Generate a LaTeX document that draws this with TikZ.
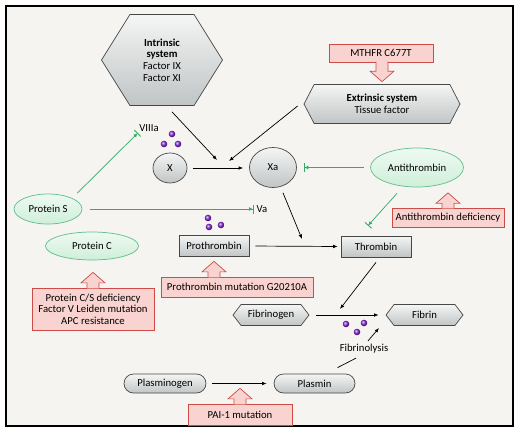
\documentclass[tikz,border=0pt]{standalone}
\usepackage{fontspec}
\setmainfont{Carlito}
\usetikzlibrary{arrows.meta,calc,positioning,shapes.geometric,shapes.symbols,shapes.misc}

\definecolor{paper}{HTML}{F5F4F0}
\definecolor{steel}{HTML}{B9BEBE}
\definecolor{leaf}{HTML}{2FAE68}
\definecolor{leafedge}{HTML}{5FBF88}
\definecolor{leaffill}{HTML}{CFEFD9}
\definecolor{rose}{HTML}{F9D3CF}
\definecolor{roseedge}{HTML}{CE4C47}
\definecolor{bead}{HTML}{8E2BE0}

\begin{document}
\begin{tikzpicture}[x=1pt, y=-1pt,
    font=\fontsize{10.7}{11.6}\selectfont,
    grey/.style={draw=black!72, line width=0.7pt, top color=steel!15, bottom color=steel!90},
    box/.style={grey, rectangle, minimum width=70pt, minimum height=21pt, inner sep=1pt},
    hexa/.style={grey, signal, signal to=east and west, signal pointer angle=105, inner sep=1pt, align=center},
    pill/.style={grey, rounded rectangle, minimum height=19pt, inner sep=1pt},
    disc/.style={grey, ellipse, inner sep=1pt},
    guard/.style={ellipse, draw=leafedge, line width=0.7pt, top color=leaffill!35, bottom color=leaffill, inner sep=1pt},
    risk/.style={rectangle, draw=roseedge, line width=0.7pt, fill=rose, inner sep=2pt, align=center},
    lift/.style={draw=roseedge, line width=0.7pt, fill=rose,
      to path={let \p1=(\tikztostart), \p2=(\tikztotarget),
        \p3=($(\tikztotarget)!10.5pt!(\tikztostart)$) in
        (\x1-6pt,\y1) -- (\x1-6pt,\y3) -- (\x1-12pt,\y3) -- (\x2,\y2)
        -- (\x1+12pt,\y3) -- (\x1+6pt,\y3) -- (\x1+6pt,\y1)}},
    arrow/.style={-{Latex[length=4.5pt,width=3.6pt]}, line width=0.7pt},
    block/.style={leaf, line width=0.7pt, -{Latex[length=3.5pt,width=4pt] Bar[width=9pt,line width=0.9pt]}},
    dot/.style={ball color=bead}
]
\useasboundingbox (0,0) rectangle (522,434);
\draw[line width=1.2pt, fill=paper] (6,6) rectangle (513,426);

% activation cascade
\node[hexa, minimum width=121pt, minimum height=91pt, signal pointer angle=116] (intr) at (162,60)
    {\textbf{Intrinsic}\\\textbf{system}\\Factor IX\\Factor XI};
\node[risk, minimum width=104pt, minimum height=18pt] (mthfr) at (381,53) {MTHFR C677T};
\node[hexa, minimum width=156pt, minimum height=39pt, signal pointer angle=125] (extr) at (382,104)
    {\textbf{Extrinsic system}\\Tissue factor};
\node (viii) at (149,128) {VIIIa};
\node[disc, minimum width=34pt, minimum height=30pt] (X) at (170,168) {X};
\node[disc, minimum width=47pt, minimum height=40pt] (Xa) at (273,167.5) {Xa};
\node[guard, minimum width=93pt, minimum height=39pt] (anti) at (417,167.5) {Antithrombin};
\node[risk, minimum width=112pt, minimum height=19pt] (atdef) at (448,217.5) {Antithrombin deficiency};
\node[box] (thromb) at (376,246.5) {Thrombin};
\node[guard, minimum width=68pt, minimum height=30pt] (protS) at (48,209) {Protein S};
\node[inner sep=1pt] (va) at (262,209) {Va};
\node[guard, minimum width=93pt, minimum height=28pt] (protC) at (92,246) {Protein C};
\node[risk, minimum width=122pt, minimum height=42pt] (pcsdef) at (93,309)
    {Protein C/S deficiency\\Factor V Leiden mutation\\APC resistance};
\node[box] (proth) at (214,246) {Prothrombin};
\node[risk, minimum width=152pt, minimum height=20pt] (pmut) at (237,287) {Prothrombin mutation G20210A};

% fibrin and fibrinolysis
\node[hexa, minimum width=76pt, minimum height=21pt] (fibgen) at (271,315) {Fibrinogen};
\node[hexa, minimum width=77pt, minimum height=21pt] (fibrin) at (424.5,315) {Fibrin};
\node (fibly) at (364,349) {Fibrinolysis};
\node[pill, minimum width=84pt] (plgen) at (165,383.5) {Plasminogen};
\node[pill, minimum width=83pt] (plasmin) at (314.5,383.5) {Plasmin};
\node[risk, minimum width=104pt, minimum height=21pt] (pai) at (240,414.5) {PAI-1 mutation};

\foreach \x/\y in {172/134,164/144,178/144,208/218,209/227,221/225,346/324,364/323,357/332}
    \shade[dot] (\x,\y) circle (3.3pt);

\coordinate (jx) at (217,160);
\coordinate (jy) at (229,161);
\coordinate (jz) at (302,239);
\coordinate (jf) at (340,309);
\coordinate (jl) at (379,328);

\draw[arrow] ($(intr.south)+(10,6)$) -- (jx);
\draw[arrow] ($(extr.west)+(-6,2)$) -- (jy);
\draw[arrow, shorten <=6pt, shorten >=6pt] (X.east) -- (X.east -| Xa.west);
\draw[arrow] ($(Xa.south)+(10,5)$) -- (jz);
\draw[arrow, shorten <=6pt, shorten >=3pt] (proth.east) -- (thromb.west);
\draw[arrow] ($(thromb.south)+(0,5)$) -- (jf);
\draw[arrow, shorten <=7pt, shorten >=7pt] (fibgen.east) -- (fibrin.west);
\draw[arrow] ($(fibly.north)+(4,0)$) -- (jl);
\draw[line width=0.7pt] ($(plasmin.north east)+(-8,-6)$) -- ($(fibly.south)+(-8,1)$);
\draw[arrow, shorten <=6pt, shorten >=7pt] (plgen.east) -- (plasmin.west);

% inhibitors
\draw[block, shorten <=6pt, shorten >=7pt] (anti.west) -- (Xa.east);
\draw[block] ($(anti.south)+(-20,6)$) -- ($(thromb.north)+(-8,-10)$);
\draw[block] ($(protS.north east)+(5,-5)$) -- ($(viii.south west)+(2,-2)$);
\draw[block, shorten <=8pt, shorten >=2pt] (protS.east) -- (va.west);

% risk factors
\coordinate (mb) at ($(mthfr.south)+(1,-0.8)$);
\coordinate (mt) at ($(mthfr.south |- extr.north)+(1,-2.5)$);
\coordinate (ab) at ($(atdef.north)+(0,0.8)$);
\coordinate (at) at ($(atdef.north |- anti.south)+(0,5.5)$);
\coordinate (cb) at ($(pcsdef.north)+(0,0.8)$);
\coordinate (ct) at ($(pcsdef.north |- protC.south)+(0,12)$);
\coordinate (pb) at ($(proth.south |- pmut.north)+(0,0.8)$);
\coordinate (pt) at ($(proth.south)+(0,4.5)$);
\coordinate (ib) at ($(pai.north)+(0,0.8)$);
\coordinate (it) at ($(pai.north |- plgen.south)+(0,-5)$);
\path[lift] (mb) to (mt);
\path[lift] (ab) to (at);
\path[lift] (cb) to (ct);
\path[lift] (pb) to (pt);
\path[lift] (ib) to (it);
\end{tikzpicture}
\end{document}
